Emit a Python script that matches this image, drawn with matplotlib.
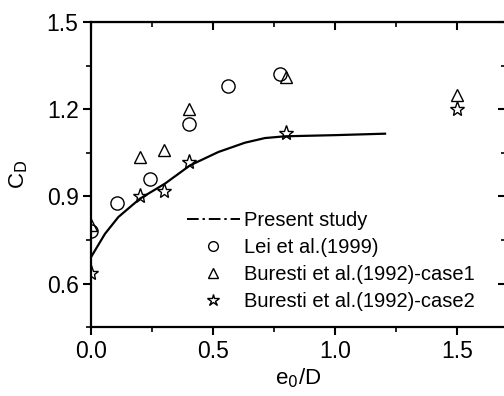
import matplotlib
matplotlib.use("Agg")
import matplotlib.pyplot as plt
from matplotlib.lines import Line2D
from matplotlib.ticker import MultipleLocator

plt.rcParams['font.family'] = ['Liberation Sans', 'DejaVu Sans']

# Present study (curve)
present_x = [0.0, 0.057, 0.112, 0.2, 0.303, 0.406, 0.522, 0.631, 0.713, 0.795, 1.0, 1.205]
present_y = [0.691, 0.771, 0.829, 0.892, 0.944, 1.007, 1.053, 1.085, 1.101, 1.107, 1.111, 1.116]

# Lei et al. (1999)
lei_x = [0.0, 0.107, 0.24, 0.40, 0.56, 0.775]
lei_y = [0.78, 0.876, 0.96, 1.15, 1.28, 1.32]

# Buresti et al. (1992) case1
b1_x = [0.0, 0.2, 0.3, 0.4, 0.8, 1.5]
b1_y = [0.80, 1.035, 1.06, 1.20, 1.31, 1.25]

# Buresti et al. (1992) case2
b2_x = [0.0, 0.2, 0.3, 0.4, 0.8, 1.5]
b2_y = [0.635, 0.90, 0.92, 1.02, 1.12, 1.20]

labels = ['Present study', 'Lei et al.(1999)',
          'Buresti et al.(1992)-case1', 'Buresti et al.(1992)-case2']

fig = plt.figure(figsize=(5.04, 3.96), dpi=100)
ax = fig.add_axes([0.1806, 0.174, 0.823, 0.770])

ax.plot(present_x, present_y, '-', color='black', lw=1.6)
ax.plot(lei_x, lei_y, 'o', mfc='none', mec='black', ms=9.5, mew=1.0)
ax.plot(b1_x, b1_y, '^', mfc='none', mec='black', ms=8.5, mew=1.0)
ax.plot(b2_x, b2_y, '*', mfc='none', mec='black', ms=11, mew=1.0)

ax.set_xlim(0, 1.7)
ax.set_ylim(0.45, 1.5)
ax.set_yticks([0.6, 0.9, 1.2, 1.5])
ax.set_xticks([0.0, 0.5, 1.0, 1.5])
ax.xaxis.set_minor_locator(MultipleLocator(0.25))
ax.yaxis.set_minor_locator(MultipleLocator(0.15))

for s in ax.spines.values():
    s.set_linewidth(1.6)

ax.tick_params(axis='both', which='major', labelsize=16.5, length=6, width=1.5,
               direction='out', pad=3)
ax.tick_params(axis='both', which='minor', length=3.5, width=1.2, direction='out')

# mirrored inward ticks on top and right
axt = ax.secondary_xaxis('top')
axt.set_xticks([0.0, 0.5, 1.0, 1.5])
axt.xaxis.set_minor_locator(MultipleLocator(0.25))
axt.tick_params(which='major', direction='in', length=6, width=1.5, labeltop=False)
axt.tick_params(which='minor', direction='in', length=3.5, width=1.2)
axr = ax.secondary_yaxis('right')
axr.set_yticks([0.6, 0.9, 1.2, 1.5])
axr.yaxis.set_minor_locator(MultipleLocator(0.15))
axr.tick_params(which='major', direction='in', length=6, width=1.5, labelright=False)
axr.tick_params(which='minor', direction='in', length=3.5, width=1.2)

ax.set_xlabel(r'e$_0$/D', fontsize=16, labelpad=3)
ax.set_ylabel(r'C$_\mathrm{D}$', fontsize=16, labelpad=12)

handles = [
    Line2D([], [], color='black', lw=1.4, linestyle=(0, (6, 2, 1.2, 2))),
    Line2D([], [], marker='o', ls='none', mfc='none', mec='black', ms=7, mew=1.0),
    Line2D([], [], marker='^', ls='none', mfc='none', mec='black', ms=6.5, mew=1.0),
    Line2D([], [], marker='*', ls='none', mfc='none', mec='black', ms=9, mew=1.0),
]
ax.legend(handles, labels, loc='upper left', bbox_to_anchor=(0.232, 0.38),
          frameon=False, fontsize=14.5, handlelength=2.6, handletextpad=0.2,
          labelspacing=0.4, borderaxespad=0, borderpad=0)

fig.savefig('out.png', dpi=100)
